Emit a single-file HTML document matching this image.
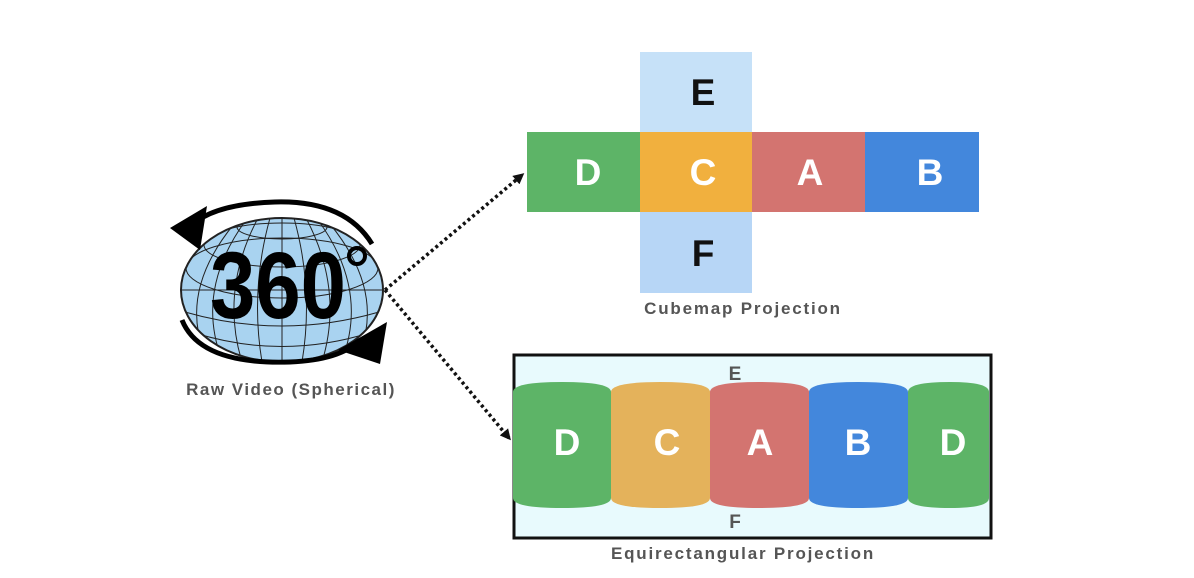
<!DOCTYPE html>
<html><head><style>
body{margin:0;background:#fff;}
svg{display:block;}
text{font-family:"Liberation Sans",sans-serif;font-weight:bold;}
</style></head><body>
<svg width="1194" height="578" viewBox="0 0 1194 578">
<defs>
<marker id="ah" markerWidth="11" markerHeight="11" refX="8" refY="5.5" orient="auto" markerUnits="userSpaceOnUse"><path d="M0,0 L11,5.5 L0,11 Z" fill="#111"/></marker>
<clipPath id="gc"><ellipse cx="282" cy="290" rx="101" ry="72"/></clipPath>
</defs>
<rect x="640" y="52" width="112" height="80" fill="#c6e1f8"/>
<rect x="527" y="132" width="113" height="80" fill="#5db467"/>
<rect x="640" y="132" width="112" height="80" fill="#f1b03e"/>
<rect x="752" y="132" width="113" height="80" fill="#d37470"/>
<rect x="865" y="132" width="114" height="80" fill="#4387dc"/>
<rect x="640" y="212" width="112" height="81" fill="#b7d6f6"/>
<g font-size="37" text-anchor="middle">
<text x="703" y="105" fill="#111">E</text>
<text x="588" y="185" fill="#fff">D</text>
<text x="703" y="185" fill="#fff">C</text>
<text x="810" y="185" fill="#fff">A</text>
<text x="930" y="185" fill="#fff">B</text>
<text x="703" y="266" fill="#111">F</text>
</g>
<text x="743" y="314" font-size="17" fill="#555" text-anchor="middle" letter-spacing="1.8">Cubemap Projection</text>
<rect x="514" y="355" width="477" height="183" fill="#e8fafd" stroke="#111" stroke-width="3"/>
<g>
<path d="M513,392 Q513,382 562,382 Q611,382 611,392 L611,498 Q611,508 562,508 Q513,508 513,498Z" fill="#5db467"/>
<path d="M611,392 Q611,382 660,382 Q710,382 710,392 L710,498 Q710,508 660,508 Q611,508 611,498Z" fill="#e4b25b"/>
<path d="M710,392 Q710,382 759,382 Q809,382 809,392 L809,498 Q809,508 759,508 Q710,508 710,498Z" fill="#d37470"/>
<path d="M809,392 Q809,382 858,382 Q908,382 908,392 L908,498 Q908,508 858,508 Q809,508 809,498Z" fill="#4387dc"/>
<path d="M908,392 Q908,382 950,382 Q989,382 989,392 L989,498 Q989,508 950,508 Q908,508 908,498Z" fill="#5db467"/>
</g>
<g font-size="37" text-anchor="middle" fill="#fff">
<text x="567" y="455">D</text>
<text x="667" y="455">C</text>
<text x="760" y="455">A</text>
<text x="858" y="455">B</text>
<text x="953" y="455">D</text>
</g>
<text x="735" y="380" font-size="19" fill="#555" text-anchor="middle">E</text>
<text x="735" y="528" font-size="19" fill="#555" text-anchor="middle">F</text>
<text x="743" y="559" font-size="17" fill="#555" text-anchor="middle" letter-spacing="1.8">Equirectangular Projection</text>
<line x1="385" y1="290" x2="522" y2="175" stroke="#111" stroke-width="3.5" stroke-dasharray="3,3" marker-end="url(#ah)"/>
<line x1="385" y1="290" x2="509" y2="438" stroke="#111" stroke-width="3.5" stroke-dasharray="3,3" marker-end="url(#ah)"/>
<ellipse cx="282" cy="290" rx="101" ry="72" fill="#a9d3f0" stroke="#222" stroke-width="2"/>
<g clip-path="url(#gc)" stroke="#222" stroke-width="1" fill="none">
<ellipse cx="282" cy="227" rx="45" ry="12"/>
<ellipse cx="282" cy="245" rx="78" ry="22"/>
<ellipse cx="282" cy="268" rx="96" ry="30"/>
<line x1="180" y1="290" x2="384" y2="290"/>
<path d="M185,312 Q282,340 379,312"/><path d="M195,333 Q282,360 369,333"/><path d="M215,350 Q282,372 349,350"/>
<path d="M282,218 V362"/>
<path d="M270,218 Q250,290 262,362"/><path d="M294,218 Q314,290 302,362"/>
<path d="M258,218 Q220,290 242,362"/><path d="M306,218 Q344,290 322,362"/>
<path d="M246,220 Q195,290 222,360"/><path d="M318,220 Q369,290 342,360"/>
<path d="M234,224 Q180,290 204,352"/><path d="M330,224 Q384,290 360,352"/>
</g>
<text x="210" y="318" font-size="95" fill="#000" textLength="136" lengthAdjust="spacingAndGlyphs">360</text>
<circle cx="357" cy="256" r="8" fill="none" stroke="#000" stroke-width="4"/>
<path d="M372,244 Q345,200 275,202 Q215,204 192,225" fill="none" stroke="#000" stroke-width="5"/>
<path d="M170,228 L207,206 L200,250 Z" fill="#000"/>
<path d="M182,320 Q200,365 290,362 Q340,360 360,340" fill="none" stroke="#000" stroke-width="5"/>
<path d="M387,322 L380,364 L338,350 Z" fill="#000"/>
<text x="291" y="395" font-size="17" fill="#555" text-anchor="middle" letter-spacing="1.5">Raw Video (Spherical)</text>
</svg>
</body></html>
